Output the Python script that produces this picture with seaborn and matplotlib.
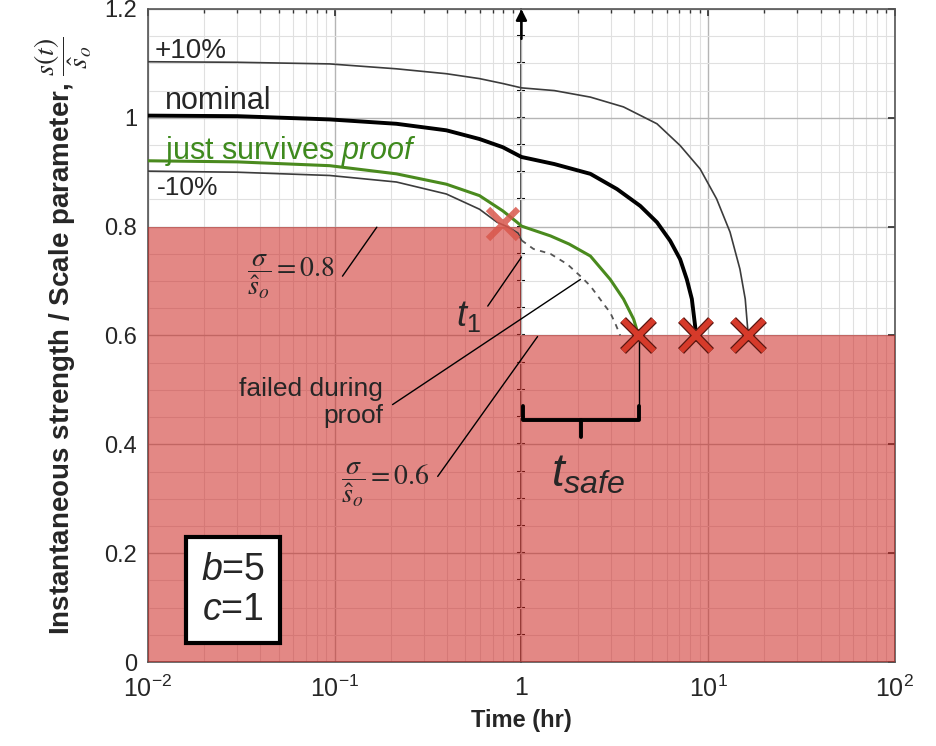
"""Proof-test strength degradation chart (b=5, c=1)."""

import matplotlib

matplotlib.use("Agg")
import matplotlib.patheffects as pe
import matplotlib.pyplot as plt
import numpy as np
import seaborn as sns

# time (hr) / normalised strength
plus10_t = [0.01, 0.03, 0.094, 0.214, 0.396, 0.596, 0.794, 1.0, 1.5, 2.34, 3.52, 5.32,
            7.08, 9.06, 11.1, 13.1, 14.8, 15.8, 16.4]
plus10_s = [1.103, 1.102, 1.099, 1.090, 1.081, 1.072, 1.063, 1.055, 1.050, 1.038, 1.020,
            0.989, 0.949, 0.906, 0.851, 0.790, 0.722, 0.667, 0.600]

nominal_t = [0.01, 0.03, 0.094, 0.214, 0.396, 0.596, 0.794, 1.0, 1.5, 2.34, 3.25, 4.33,
             5.32, 6.26, 7.08, 7.69, 8.18, 8.52, 8.6]
nominal_s = [1.004, 1.003, 0.997, 0.989, 0.977, 0.961, 0.946, 0.928, 0.915, 0.897, 0.869,
             0.838, 0.808, 0.774, 0.740, 0.703, 0.667, 0.617, 0.600]

survive_t = [0.01, 0.03, 0.094, 0.214, 0.396, 0.596, 0.794, 0.948, 1.0, 1.43, 1.8, 2.34,
             2.99, 3.52, 3.99, 4.24]
survive_s = [0.921, 0.919, 0.912, 0.897, 0.878, 0.857, 0.829, 0.808, 0.801, 0.783, 0.768,
             0.746, 0.703, 0.667, 0.630, 0.600]

minus10_t = [0.01, 0.03, 0.094, 0.214, 0.396, 0.596, 0.741, 0.85, 0.96, 1.0]
minus10_s = [0.902, 0.900, 0.894, 0.882, 0.860, 0.832, 0.808, 0.799, 0.788, 0.775]

failed_t = [1.0, 1.16, 1.43, 1.76, 2.07, 2.34, 2.81, 2.99, 3.2, 3.38]
failed_s = [0.775, 0.759, 0.750, 0.731, 0.709, 0.691, 0.654, 0.642, 0.620, 0.600]

# failure points
proof_fail_t = [0.794]
proof_fail_s = [0.805]
service_fail_t = [4.24, 8.6, 16.4]
service_fail_s = [0.60, 0.60, 0.60]

# applied stress / scale parameter: proof, then service
stress_t = [1e-2, 1.0, 1e2]
stress_level = [0.8, 0.6, 0.6]

xtick_vals = [1e-2, 1e-1, 1, 1e1, 1e2]
xtick_labels = [r"$10^{-2}$", r"$10^{-1}$", "1", r"$10^{1}$", r"$10^{2}$"]
ytick_vals = [0, 0.2, 0.4, 0.6, 0.8, 1.0, 1.2]
ytick_labels = ["0", "0.2", "0.4", "0.6", "0.8", "1", "1.2"]

sns.set_theme(style="white")
plt.rcParams["font.family"] = ["Liberation Sans", "DejaVu Sans"]
plt.rcParams["mathtext.fontset"] = "custom"
plt.rcParams["mathtext.rm"] = "Liberation Sans"
plt.rcParams["mathtext.it"] = "Liberation Sans:italic"
plt.rcParams["mathtext.bf"] = "Liberation Sans:bold"

fig = plt.figure(figsize=(9.37, 7.46), dpi=100)
ax = fig.add_axes([0.158, 0.1126, 0.797, 0.8754])
ax.set_xscale("log")
ax.set_xlim(1e-2, 1e2)
ax.set_ylim(0, 1.2)

# grid
ax.set_axisbelow(True)
ax.set_yticks(np.arange(0, 1.201, 0.05), minor=True)
ax.grid(True, which="major", color="#b5b5b5", lw=1.0)
ax.grid(True, which="minor", color="#e0e0e0", lw=0.8)

ax.set_xticks(xtick_vals)
ax.set_xticklabels(xtick_labels, fontsize=18)
ax.set_yticks(ytick_vals)
ax.set_yticklabels(ytick_labels, fontsize=17)
ax.tick_params(which="both", direction="in", top=True, right=True, color="#333333")
ax.tick_params(which="major", length=5)
ax.tick_params(axis="x", which="major", pad=10)
ax.tick_params(axis="y", which="major", pad=8)
ax.tick_params(which="minor", length=3)
ax.tick_params(axis="y", which="minor", length=0)
for sp in ax.spines.values():
    sp.set_color("#555555")
    sp.set_linewidth(1.2)

# time axis through t = 1 hr (end of proof)
sec = ax.secondary_yaxis(0.5)
sec.spines["left"].set_linewidth(1.8)
sec.spines["left"].set_color("black")
sec.set_yticks(np.arange(0.05, 1.16, 0.05))
sec.tick_params(direction="inout", length=6, width=1.5, labelleft=False, labelright=False,
                color="black")
ax.annotate("", xy=(1.0, 1.205), xytext=(1.0, 1.14),
            arrowprops=dict(arrowstyle="-|>", color="black", lw=1.8, mutation_scale=16),
            annotation_clip=False, zorder=2)

# failure region
ax.fill_between(stress_t, 0, stress_level, step="post", color="#cd231e", alpha=0.54,
                lw=0, zorder=3)

sns.lineplot(x=plus10_t, y=plus10_s, ax=ax, color="#3c3c3c", lw=1.2, zorder=5)
sns.lineplot(x=nominal_t, y=nominal_s, ax=ax, color="black", lw=2.8, zorder=5)
sns.lineplot(x=minus10_t, y=minus10_s, ax=ax, color="#3c3c3c", lw=1.2, zorder=5)
sns.lineplot(x=failed_t, y=failed_s, ax=ax, color="#555555", lw=1.3, ls=(0, (3, 3)),
             zorder=5)
sns.lineplot(x=survive_t, y=survive_s, ax=ax, color="#4a8a1e", lw=2.2, zorder=5)

# bracket for t_safe
t_a, t_b = 1.02, service_fail_t[0]
t_mid = np.sqrt(t_a * t_b)
ax.plot([t_b, t_b], [service_fail_s[0], 0.47], color="black", lw=1.0, zorder=6)
ax.plot([t_a, t_a, t_b, t_b], [0.47, 0.444, 0.444, 0.47], color="black", lw=2.8,
        zorder=6, solid_joinstyle="round")
ax.plot([t_mid, t_mid], [0.444, 0.414], color="black", lw=2.8, zorder=6)

stroke = [pe.Stroke(linewidth=6.0, foreground="#5a1610"), pe.Normal()]
ax.plot(proof_fail_t, proof_fail_s, ls="none", marker="x", ms=22, mew=4.5,
        color="#d9574c", alpha=0.85, zorder=7)
ax.plot(service_fail_t, service_fail_s, ls="none", marker="x", ms=22, mew=4.2,
        color="#d63a2a", path_effects=stroke, zorder=7)

# leader lines
leaders = [
    ((0.110, 0.709), (0.168, 0.799)),
    ((0.356, 0.341), (1.22, 0.598)),
    ((0.204, 0.473), (2.07, 0.703)),
    ((0.66, 0.654), (1.0, 0.744)),
]
for (x0, y0), (x1, y1) in leaders:
    ax.plot([x0, x1], [y0, y1], color="black", lw=1.0, zorder=6)

# curve labels
ax.text(0.0109, 1.123, "+10%", fontsize=20, va="center", zorder=8)
ax.text(0.0123, 1.03, "nominal", fontsize=22, va="center", zorder=8)
ax.text(0.0123, 0.939, r"just survives $proof$", fontsize=22, va="center",
        color="#3f8a1e", zorder=8)
ax.text(0.0112, 0.871, "-10%", fontsize=19, va="center", zorder=8)
ax.text(0.181, 0.477, "failed during\nproof", fontsize=19, ha="right", va="center",
        multialignment="right", zorder=8)

ax.text(0.034, 0.707, r"$\dfrac{\sigma}{\hat{s}_o}=0.8$", fontsize=20, va="center",
        math_fontfamily="stix", zorder=8)
ax.text(0.108, 0.326, r"$\dfrac{\sigma}{\hat{s}_o}=0.6$", fontsize=20, va="center",
        math_fontfamily="stix", zorder=8)
ax.text(0.52, 0.635, r"$t_\mathit{1}$", fontsize=26, ha="center", va="center", zorder=8)
ax.text(2.28, 0.344, r"$t_{safe}$", fontsize=33, ha="center", va="center", zorder=8)

ax.text(0.0285, 0.133, "$b$=5\n$c$=1", fontsize=27, ha="center", va="center",
        linespacing=1.15, zorder=8,
        bbox=dict(boxstyle="square,pad=0.4", fc="white", ec="black", lw=3))

ax.set_xlabel("Time (hr)", fontsize=17, fontweight="bold", labelpad=5)
ax.set_ylabel(r"Instantaneous strength / Scale parameter, $\dfrac{s(t)}{\hat{s}_o}$",
              fontsize=20, fontweight="bold", math_fontfamily="stix", labelpad=7)

fig.savefig("out.png", dpi=100)
